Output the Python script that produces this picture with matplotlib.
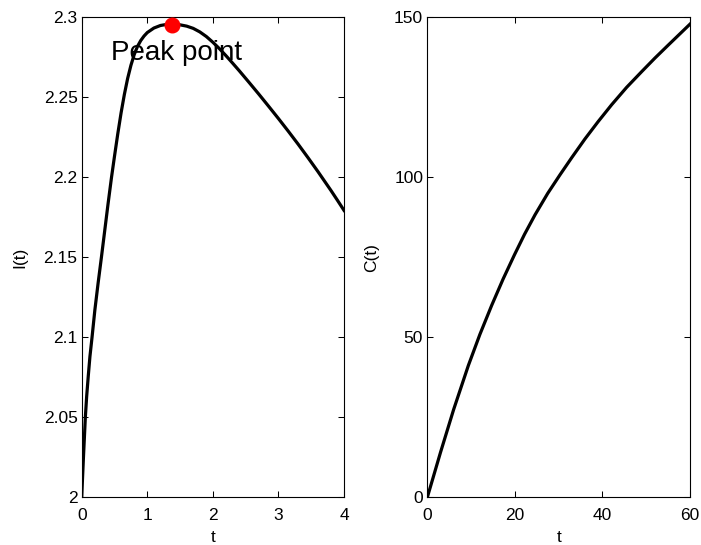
import matplotlib
matplotlib.use("Agg")
import matplotlib.pyplot as plt

plt.rcParams['font.family'] = ['Liberation Sans', 'DejaVu Sans']

# Left panel: I(t)
t_I = [0, 0.01, 0.025, 0.04, 0.055, 0.075, 0.1, 0.125, 0.157, 0.2, 0.25, 0.30, 0.35,
       0.40, 0.454, 0.5, 0.55, 0.6, 0.65, 0.7, 0.75, 0.8, 0.85, 0.9, 0.95, 1.0,
       1.1, 1.2, 1.3, 1.37, 1.5, 1.6, 1.7, 1.8, 1.9, 2.0, 2.1, 2.2, 2.3, 2.4,
       2.55, 2.7, 2.85, 3.0, 3.15, 3.3, 3.45, 3.6, 3.8, 3.9, 4.0]
I_vals = [2.0, 2.010, 2.024, 2.037, 2.050, 2.063, 2.076, 2.088, 2.100, 2.117, 2.134, 2.150, 2.1665,
          2.183, 2.200, 2.2133, 2.2273, 2.2403, 2.2518, 2.2618, 2.2700, 2.2767, 2.2818, 2.2855, 2.2883, 2.2905,
          2.2933, 2.2949, 2.2956, 2.2957, 2.2953, 2.2945, 2.2931, 2.2909, 2.2880, 2.2844, 2.2804, 2.2760, 2.2714, 2.2667,
          2.2594, 2.2520, 2.2444, 2.2367, 2.2288, 2.2207, 2.2123, 2.2037, 2.1918, 2.1856, 2.1793]
peak_t = [1.37]
peak_I = [2.2955]
peak_text = "Peak point"

# Right panel: C(t)
t_C = [0, 3, 6, 9.37, 12, 14.7, 17.3, 19.9, 22.2, 24.6, 27.5, 30.3, 33, 36, 39,
       42.1, 45.5, 49, 52, 55, 57.5, 60]
C_vals = [0, 14.0, 27.4, 41.2, 50.9, 60.0, 68.2, 75.8, 82.2, 88.3, 95.0, 100.8, 106.2, 112.0, 117.4,
          122.7, 128.1, 133.1, 137.3, 141.3, 144.6, 147.9]

I_ticks = [2, 2.05, 2.1, 2.15, 2.2, 2.25, 2.3]
I_ticklabels = ['2', '2.05', '2.1', '2.15', '2.2', '2.25', '2.3']
tI_ticks = [0, 1, 2, 3, 4]
C_ticks = [0, 50, 100, 150]
tC_ticks = [0, 20, 40, 60]

fig = plt.figure(figsize=(7.01, 5.45), dpi=100)
ax1 = fig.add_axes([0.1166, 0.0875, 0.3742, 0.8807])
ax2 = fig.add_axes([0.6096, 0.0875, 0.3748, 0.8807])

fs = 12.5
for ax in (ax1, ax2):
    ax.tick_params(direction='in', top=True, right=True, length=4.5, width=0.75,
                   labelsize=fs)
    ax.tick_params(axis='x', pad=8)
    ax.tick_params(axis='y', pad=3)
    for s in ax.spines.values():
        s.set_linewidth(0.8)
        s.set_color('black')

ax1.plot(t_I, I_vals, color='black', lw=2.3, solid_joinstyle='round')
ax1.plot(peak_t, peak_I, 'o', color='red', ms=10.5, zorder=5)
ax1.text(0.45, 2.278, peak_text, fontsize=20, va='center', ha='left')
ax1.set_xlim(0, 4)
ax1.set_ylim(2, 2.3)
ax1.set_xticks(tI_ticks)
ax1.set_yticks(I_ticks)
ax1.set_yticklabels(I_ticklabels)
ax1.set_xlabel('t', fontsize=fs, labelpad=4.5)
ax1.set_ylabel('I(t)', fontsize=fs, labelpad=12)

ax2.plot(t_C, C_vals, color='black', lw=2.3, solid_joinstyle='round')
ax2.set_xlim(0, 60)
ax2.set_ylim(0, 150)
ax2.set_xticks(tC_ticks)
ax2.set_yticks(C_ticks)
ax2.set_xlabel('t', fontsize=fs, labelpad=4.5)
ax2.set_ylabel('C(t)', fontsize=fs, labelpad=10.5)

fig.savefig('out.png', dpi=100)
